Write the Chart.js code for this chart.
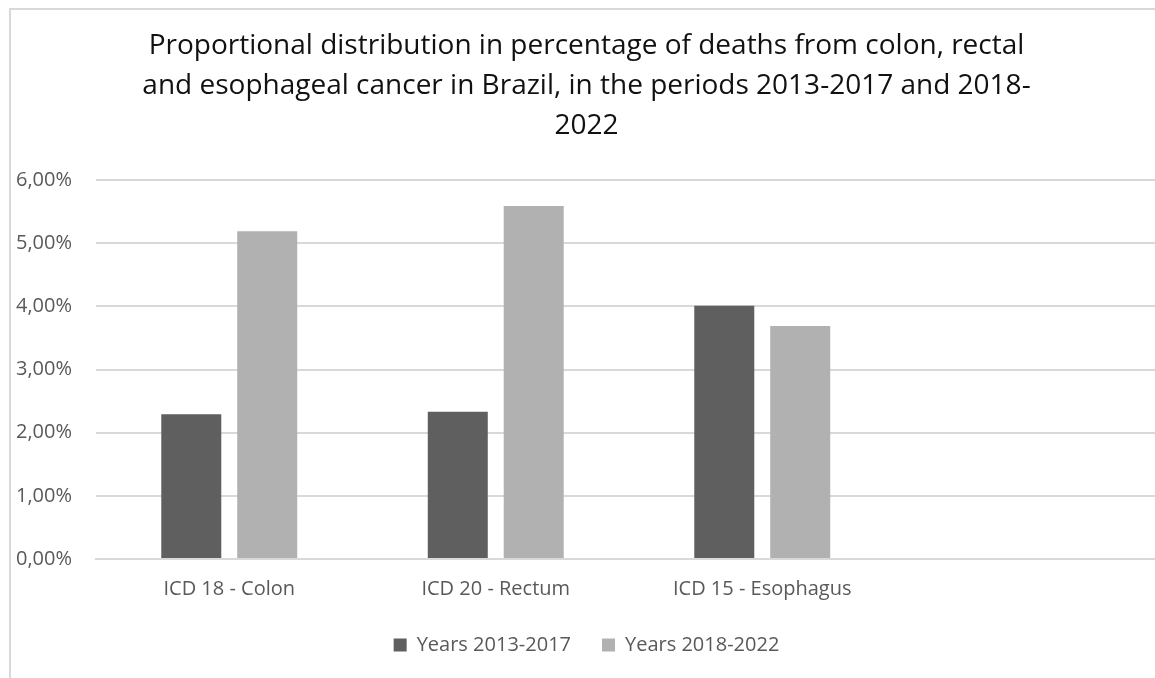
<!DOCTYPE html>
<html>
<head>
<meta charset="utf-8">
<script src="https://cdn.jsdelivr.net/npm/chart.js@4.4.1/dist/chart.umd.min.js"></script>
<style>
  html, body { margin: 0; padding: 0; background: #fff; overflow: hidden; }
  #frame {
    position: absolute; left: 9px; top: 8px;
    width: 1170px; height: 700px;
    border: 2px solid #d9d9d9;
  }
  #myChart { display: block; }
</style>
</head>
<body>
<div id="frame"><canvas id="myChart" width="1170" height="655"></canvas></div>
<script>
var categories = ["ICD 18 - Colon", "ICD 20 - Rectum", "ICD 15 - Esophagus", ""];
var years2013 = [2.29, 2.33, 4.01, null];
var years2018 = [5.19, 5.59, 3.69, null];
var yTickLabels = ["0,00%", "1,00%", "2,00%", "3,00%", "4,00%", "5,00%", "6,00%"];
var titleLines = [
    "Proportional distribution in percentage of deaths from colon, rectal",
    "and esophageal cancer in Brazil, in the periods 2013-2017 and 2018-",
    "2022"
];

Graph1 = {
    populate: function() {
        var ctx = document.getElementById("myChart").getContext('2d');
        var myChart = new Chart(ctx, {
            type: 'bar',
            data: {
                labels: categories,
                datasets: [{
                    label: 'Years 2013-2017',
                    backgroundColor: "#5f5f5f",
                    data: years2013
                }, {
                    label: 'Years 2018-2022',
                    backgroundColor: "#b1b1b1",
                    data: years2018
                }]
            },
            options: {
                responsive: false,
                animation: false,
                categoryPercentage: 0.57,
                barPercentage: 0.79,
                layout: { padding: { left: 0, right: 19, top: 0, bottom: 0 } },
                plugins: {
                    title: {
                        display: true,
                        text: titleLines,
                        color: '#111',
                        font: { family: 'Open Sans', size: 28, weight: 'normal', lineHeight: 40 / 28 },
                        padding: { top: 16, bottom: 34 }
                    },
                    legend: {
                        position: 'bottom',
                        labels: {
                            color: '#595959',
                            font: { family: 'Open Sans', size: 20 },
                            boxWidth: 13,
                            boxHeight: 13,
                            padding: 31
                        }
                    },
                    tooltip: { enabled: false }
                },
                scales: {
                    x: {
                        afterFit: function(scale) { scale.height -= 15; },
                        grid: { display: false, drawTicks: false },
                        border: { display: true, color: '#d9d9d9', width: 2 },
                        ticks: {
                            color: '#595959',
                            font: { family: 'Open Sans', size: 20 },
                            padding: 18,
                            maxRotation: 0
                        }
                    },
                    y: {
                        min: 0,
                        max: 6,
                        afterFit: function(scale) { scale.width = 85; },
                        grid: { color: '#d9d9d9', lineWidth: 2, drawTicks: false },
                        border: { display: false },
                        ticks: {
                            stepSize: 1,
                            color: '#595959',
                            font: { family: 'Open Sans', size: 20 },
                            padding: 24,
                            callback: function(value, index) { return yTickLabels[index]; }
                        }
                    }
                }
            }
        });
    }
};

document.addEventListener('DOMContentLoaded', Graph1.populate, false);
</script>
</body>
</html>
